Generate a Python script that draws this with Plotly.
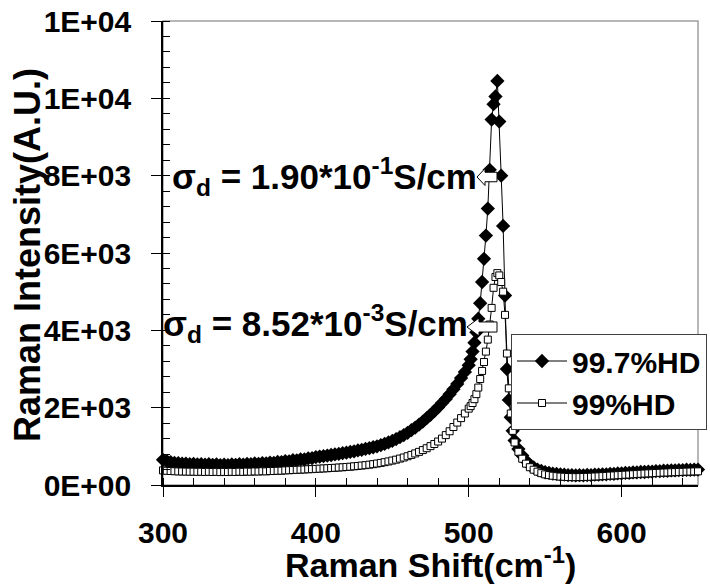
import plotly.graph_objects as go

# Raman shift positions (cm^-1): coarse on the wings, finer across the Si peak
shift = [
    300, 302.5, 305, 307.5, 310, 312.5, 315, 317.5, 320, 322.5, 325, 327.5, 330, 332.5, 335, 337.5,
    340, 342.5, 345, 347.5, 350, 352.5, 355, 357.5, 360, 362.5, 365, 367.5, 370, 372.5, 375, 377.5,
    380, 382.5, 385, 387.5, 390, 392.5, 395, 397.5, 400, 402.5, 405, 407.5, 410, 412.5, 415, 417.5,
    420, 422.5, 425, 427.5, 430, 432.5, 435, 437.5, 440, 442.5, 445, 447.5, 450, 452.5, 455, 457.5,
    460, 462.5, 465, 467.5, 470, 472.5, 475, 477.5, 480, 482.5, 485, 487.5, 490, 492.5, 495, 497.5,
    500,
    501.25, 502.5, 503.75, 505, 506.25, 507.5, 508.75, 510, 511.25, 512.5, 513.75, 515, 516.25,
    517.5, 518.75, 520, 521.25, 522.5, 523.75, 525, 526.25, 527.5, 528.75, 530,
    532.5, 535, 537.5, 540, 542.5, 545, 547.5, 550, 552.5, 555, 557.5, 560, 562.5, 565, 567.5, 570,
    572.5, 575, 577.5, 580, 582.5, 585, 587.5, 590, 592.5, 595, 597.5, 600, 602.5, 605, 607.5, 610,
    612.5, 615, 617.5, 620, 622.5, 625, 627.5, 630, 632.5, 635, 637.5, 640, 642.5, 645, 647.5, 650,
]

# 99.7%HD sample intensity (A.U.)
hd997 = [
    650, 615, 590, 572, 566, 551, 553, 540, 545, 532, 540, 524, 536, 522, 530, 515,
    524, 516, 530, 521, 538, 528, 546, 537, 556, 548, 568, 560, 581, 574, 597, 592,
    618, 612, 640, 634, 663, 660, 690, 694, 722, 736, 748, 762, 776, 790, 803, 822,
    836, 856, 870, 893, 910, 932, 952, 976, 1000, 1032, 1064, 1102, 1140, 1188, 1236, 1292,
    1350, 1418, 1486, 1560, 1640, 1728, 1815, 1912, 2010, 2118, 2225, 2348, 2475, 2615, 2765, 2925,
    3100,
    3250, 3450, 3680, 3950, 4300, 4700, 5250, 5850, 6450, 7150, 8150, 9450, 9850,
    10050, 10450, 9400, 8000, 6700, 4900, 3000, 2200, 1750, 1400, 1150,
    930, 760, 625, 520, 455, 400, 365, 330, 315, 296, 286, 272, 268, 256, 255, 248,
    254, 250, 258, 255, 266, 266, 276, 276, 288, 288, 300, 300, 312, 312, 324, 324,
    336, 336, 348, 348, 360, 358, 368, 368, 378, 376, 386, 384, 394, 391, 400, 398,
]

# 99%HD sample intensity (A.U.)
hd99 = [
    378, 368, 362, 356, 352, 349, 347, 344, 345, 341, 343, 338, 341, 337, 340, 334,
    339, 335, 341, 337, 344, 340, 347, 344, 351, 349, 356, 353, 361, 362, 368, 370,
    378, 382, 387, 392, 397, 401, 407, 411, 417, 422, 428, 433, 440, 445, 452, 458,
    466, 473, 483, 492, 503, 513, 526, 539, 555, 571, 590, 609, 632, 655, 683, 711,
    744, 778, 817, 857, 903, 951, 1005, 1061, 1125, 1200, 1290, 1390, 1500, 1615, 1730, 1850,
    1975,
    2040, 2120, 2220, 2350, 2520, 2740, 2950, 3180, 3450, 3760, 4150, 4580, 5100,
    5380, 5480, 5420, 5250, 5000, 4400, 3400, 2500, 1850, 1400, 1100,
    860, 680, 552, 460, 396, 345, 306, 275, 256, 240, 229, 218, 213, 207, 205, 203,
    205, 206, 210, 213, 219, 223, 230, 235, 242, 247, 254, 259, 266, 271, 278, 283,
    290, 295, 301, 305, 311, 315, 321, 324, 329, 332, 337, 340, 345, 347, 351, 353,
]

series_names = ["99.7%HD", "99%HD"]
annot_texts = [
    "σ<sub>d</sub> = 1.90*10<sup>-1</sup>S/cm",
    "σ<sub>d</sub> = 8.52*10<sup>-3</sup>S/cm",
]

x_tick_vals = [300, 400, 500, 600]
y_tick_vals = [0, 2000, 4000, 6000, 8000, 10000, 12000]
y_tick_text = ["0E+00", "2E+03", "4E+03", "6E+03", "8E+03", "1E+04", "1E+04"]

W, H = 710, 584
L, R, T, B = 163, 12, 21, 99
PW, PH = W - L - R, H - T - B
FONT = "Liberation Sans, Arial, Helvetica, sans-serif"


def fx(p):
    """pixel column -> paper x"""
    return (p - L) / PW


def fy(p):
    """pixel row -> paper y"""
    return (H - B - p) / PH


def block_arrow(tip, tail, cy, h):
    """left-pointing hollow block arrow, in paper coordinates"""
    neck = tip + (tail - tip) * 0.4
    pts = [
        (tip, cy), (neck, cy - h / 2), (neck, cy - h * 0.28), (tail, cy - h * 0.28),
        (tail, cy + h * 0.28), (neck, cy + h * 0.28), (neck, cy + h / 2),
    ]
    d = "M " + " L ".join(f"{fx(x):.5f},{fy(y):.5f}" for x, y in pts) + " Z"
    return dict(type="path", path=d, xref="paper", yref="paper",
                fillcolor="white", line=dict(color="black", width=1), layer="above")


fig = go.Figure()
fig.add_trace(go.Scatter(
    x=shift, y=hd997, mode="lines+markers", name=series_names[0], cliponaxis=False,
    line=dict(color="black", width=1),
    marker=dict(symbol="diamond", size=11, color="black"),
))
fig.add_trace(go.Scatter(
    x=shift, y=hd99, mode="lines+markers", name=series_names[1], cliponaxis=False,
    line=dict(color="black", width=1),
    marker=dict(symbol="square", size=7, color="white", line=dict(color="black", width=1)),
))
# empty trace so the overlay axes (inner halves of the major ticks) get drawn
fig.add_trace(go.Scatter(x=[], y=[], xaxis="x2", yaxis="y2", showlegend=False, hoverinfo="skip"))

tick_font = dict(family=FONT, size=30, color="black", weight="bold")

fig.update_layout(
    width=W, height=H,
    margin=dict(l=L, r=R, t=T, b=B, pad=0, autoexpand=False),
    paper_bgcolor="white", plot_bgcolor="white",
    showlegend=True,
    xaxis=dict(
        range=[300, 650], tickvals=x_tick_vals, ticks="outside", ticklen=10, tickwidth=1,
        tickcolor="black", showline=True, linecolor="black", linewidth=1.5, showgrid=False,
        zeroline=False, tickfont=tick_font, ticklabelstandoff=10,
        minor=dict(ticks="inside", ticklen=7, dtick=20, tick0=300, tickcolor="black",
                   tickwidth=1, showgrid=False),
    ),
    yaxis=dict(
        range=[0, 12000], tickvals=y_tick_vals, ticktext=y_tick_text, ticks="outside",
        ticklen=10, tickwidth=1, tickcolor="black", showline=True, linecolor="black",
        linewidth=1.5, showgrid=False, zeroline=False, tickfont=tick_font, ticklabelstandoff=14,
        minor=dict(ticks="inside", ticklen=7, dtick=400, tick0=0, tickcolor="black",
                   tickwidth=1, showgrid=False),
    ),
    xaxis2=dict(
        overlaying="x", anchor="y2", range=[300, 650], tickvals=x_tick_vals, ticks="inside",
        ticklen=7, tickcolor="black", showticklabels=False, showline=False, showgrid=False,
        zeroline=False,
    ),
    yaxis2=dict(
        overlaying="y", anchor="x2", range=[0, 12000], tickvals=y_tick_vals, ticks="inside",
        ticklen=7, tickcolor="black", showticklabels=False, showline=False, showgrid=False,
        zeroline=False,
    ),
    legend=dict(
        x=fx(511), y=fy(334), xanchor="left", yanchor="top",
        bgcolor="white", bordercolor="#404040", borderwidth=1,
        font=dict(family=FONT, size=30, color="black", weight="bold"),
        itemwidth=50, tracegroupgap=0,
    ),
    shapes=[
        dict(type="rect", xref="paper", yref="paper", x0=0, y0=0, x1=1, y1=1,
             line=dict(color="#a0a0a0", width=1.5), layer="below"),
        block_arrow(477, 497, 177, 17),
        block_arrow(467, 497, 327, 18),
    ],
    annotations=[
        dict(text=annot_texts[0], x=fx(170), y=fy(177), xref="paper", yref="paper",
             xanchor="left", yanchor="middle", showarrow=False,
             font=dict(family=FONT, size=35, color="black", weight="bold")),
        dict(text=annot_texts[1], x=fx(161), y=fy(323), xref="paper", yref="paper",
             xanchor="left", yanchor="middle", showarrow=False,
             font=dict(family=FONT, size=35, color="black", weight="bold")),
        dict(text="Raman Intensity(A.U.)", x=fx(27), y=fy(255), xref="paper", yref="paper",
             xanchor="center", yanchor="middle", textangle=-90, showarrow=False,
             font=dict(family=FONT, size=36, color="black", weight="bold")),
        dict(text="Raman Shift(cm<sup>-1</sup>)", x=fx(430), y=fy(562), xref="paper", yref="paper",
             xanchor="center", yanchor="middle", showarrow=False,
             font=dict(family=FONT, size=34, color="black", weight="bold")),
    ],
)

fig.write_html("out.html")
